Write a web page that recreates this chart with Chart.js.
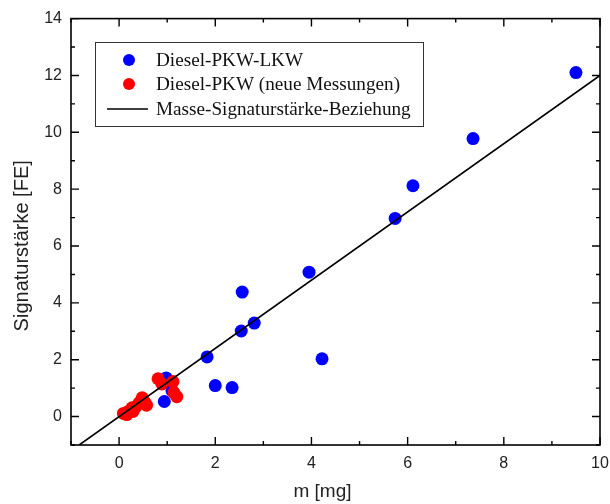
<!DOCTYPE html>
<html>
<head>
<meta charset="utf-8">
<script src="https://cdn.jsdelivr.net/npm/chart.js@4/dist/chart.umd.min.js"></script>
<style>
  body { margin: 0; background: #fff; }
  #wrap { width: 610px; height: 504px; }
</style>
</head>
<body>
<div id="wrap"><canvas id="massChart" width="610" height="504"></canvas></div>
<script>
// Diesel-PKW-LKW
const lkwX = [9.50, 7.36, 6.11, 5.74, 3.95, 2.56, 2.54, 2.81, 1.83, 4.22, 2.00, 2.35, 0.94, 1.10, 0.98];
const lkwY = [12.10, 9.78, 8.12, 6.97, 5.08, 4.38, 3.01, 3.29, 2.10, 2.03, 1.09, 1.02, 0.53, 0.91, 1.36];

// Diesel-PKW (neue Messungen)
const pkwX = [0.09, 0.16, 0.19, 0.27, 0.29, 0.35, 0.42, 0.48, 0.54, 0.57, 0.81, 0.89, 1.12, 1.14, 1.20];
const pkwY = [0.11, 0.07, 0.18, 0.31, 0.18, 0.35, 0.49, 0.66, 0.49, 0.40, 1.33, 1.15, 1.23, 0.84, 0.70];

// Masse-Signaturstärke-Beziehung
const fitX = [-0.83, 10];
const fitY = [-1, 12];

const xTicks = [0, 2, 4, 6, 8, 10];
const yTicks = [0, 2, 4, 6, 8, 10, 12, 14];

const xTitle = "m [mg]";
const yTitle = "Signaturstärke [FE]";

const toPoints = (xs, ys) => xs.map((x, i) => ({ x: x, y: ys[i] }));

const sansFamily = "'Liberation Sans', Arial, sans-serif";

// frame with inward major/minor ticks on all four sides
const framePlugin = {
  id: "frame",
  afterDatasetsDraw(chart) {
    const { ctx, chartArea: a, scales } = chart;
    ctx.save();
    ctx.strokeStyle = "#000";
    ctx.lineWidth = 1.6;
    ctx.strokeRect(a.left, a.top, a.right - a.left, a.bottom - a.top);
    ctx.lineWidth = 1.4;
    ctx.beginPath();
    for (let v = -1; v <= 10; v++) {
      const px = scales.x.getPixelForValue(v);
      const len = v % 2 === 0 ? 8 : 4;
      ctx.moveTo(px, a.bottom); ctx.lineTo(px, a.bottom - len);
      ctx.moveTo(px, a.top); ctx.lineTo(px, a.top + len);
    }
    for (let v = -1; v <= 14; v++) {
      const py = scales.y.getPixelForValue(v);
      const len = v % 2 === 0 ? 8 : 4;
      ctx.moveTo(a.left, py); ctx.lineTo(a.left + len, py);
      ctx.moveTo(a.right, py); ctx.lineTo(a.right - len, py);
    }
    ctx.stroke();
    ctx.restore();
  },
};

// axis titles, set a little off-centre
const axisTitles = {
  id: "axisTitles",
  afterDraw(chart) {
    const { ctx, chartArea: a } = chart;
    ctx.save();
    ctx.fillStyle = "#222";
    ctx.textAlign = "center";
    ctx.textBaseline = "middle";
    ctx.font = "19px " + sansFamily;
    ctx.fillText(xTitle, (a.left + a.right) / 2 - 13, 492);
    ctx.translate(22, (a.top + a.bottom) / 2 + 14);
    ctx.rotate(-Math.PI / 2);
    ctx.font = "20px " + sansFamily;
    ctx.fillText(yTitle, 0, 0);
    ctx.restore();
  },
};

// boxed legend in the upper left of the plot
const boxLegend = {
  id: "boxLegend",
  afterDraw(chart) {
    const { ctx } = chart;
    const sets = chart.data.datasets;
    const rows = [60, 84, 109];
    ctx.save();
    ctx.fillStyle = "#fff";
    ctx.fillRect(95, 42, 328, 84);
    ctx.strokeStyle = "#333";
    ctx.lineWidth = 1;
    ctx.strokeRect(95.5, 42.5, 328, 84);
    ctx.font = "19.2px 'Liberation Serif', 'Times New Roman', serif";
    ctx.textBaseline = "middle";
    sets.forEach((ds, i) => {
      const y = rows[i];
      if (ds.showLine) {
        ctx.strokeStyle = ds.borderColor;
        ctx.lineWidth = 1.6;
        ctx.beginPath();
        ctx.moveTo(107, y);
        ctx.lineTo(148, y);
        ctx.stroke();
      } else {
        ctx.fillStyle = ds.backgroundColor;
        ctx.beginPath();
        ctx.arc(129, y, 6, 0, Math.PI * 2);
        ctx.fill();
      }
      ctx.fillStyle = "#111";
      ctx.fillText(ds.label, 156, y + 1);
    });
    ctx.restore();
  },
};

const tickFont = { family: sansFamily, size: 16 };

new Chart(document.getElementById("massChart"), {
  type: "scatter",
  data: {
    datasets: [
      {
        label: "Diesel-PKW-LKW",
        data: toPoints(lkwX, lkwY),
        backgroundColor: "#0000ff",
        borderWidth: 0,
        pointRadius: 6.5,
        order: 3,
      },
      {
        label: "Diesel-PKW (neue Messungen)",
        data: toPoints(pkwX, pkwY),
        backgroundColor: "#ff0000",
        borderWidth: 0,
        pointRadius: 6.5,
        order: 2,
      },
      {
        label: "Masse-Signaturstärke-Beziehung",
        data: toPoints(fitX, fitY),
        showLine: true,
        borderColor: "#000",
        borderWidth: 1.6,
        pointRadius: 0,
        order: 1,
      },
    ],
  },
  options: {
    responsive: false,
    animation: false,
    layout: { padding: { top: 18, right: 0, left: 0, bottom: 0 } },
    plugins: {
      legend: { display: false },
      tooltip: { enabled: false },
    },
    scales: {
      x: {
        type: "linear",
        min: -1,
        max: 10,
        afterBuildTicks: (s) => { s.ticks = xTicks.map((v) => ({ value: v })); },
        afterFit: (s) => {
          s.height = 59;
          s.paddingRight = 10; // keep the "10" label from pulling the frame in
        },
        grid: { display: false, drawTicks: false },
        border: { display: false },
        ticks: { color: "#222", font: tickFont, padding: 9, maxRotation: 0 },
      },
      y: {
        type: "linear",
        min: -1,
        max: 14,
        afterBuildTicks: (s) => { s.ticks = yTicks.map((v) => ({ value: v })); },
        afterFit: (s) => { s.width = 71; },
        grid: { display: false, drawTicks: false },
        border: { display: false },
        ticks: { color: "#222", font: tickFont, padding: 9 },
      },
    },
  },
  plugins: [framePlugin, axisTitles, boxLegend],
});
</script>
</body>
</html>
